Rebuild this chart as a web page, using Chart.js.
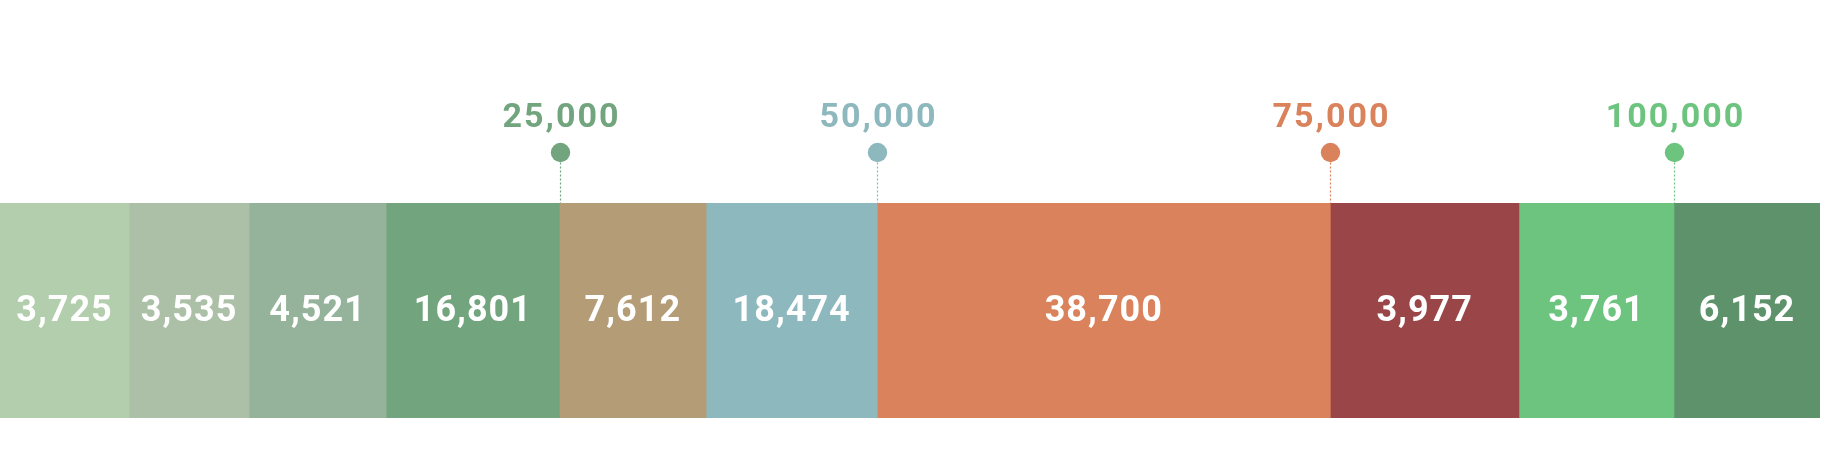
<!DOCTYPE html>
<html>
<head>
<meta charset="utf-8">
<script src="https://cdn.jsdelivr.net/npm/chart.js@4"></script>
<style>
  html, body { margin: 0; padding: 0; background: #ffffff; }
  #wrap { width: 1821px; height: 475px; position: relative; }
</style>
</head>
<body>
<div id="wrap"><canvas id="c"></canvas></div>
<script>
// Segment values (shown as labels)
const values = [3725, 3535, 4521, 16801, 7612, 18474, 38700, 3977, 3761, 6152];
// Relative segment widths (% of bar length)
const shares = [7.09, 6.59, 7.53, 9.53, 8.05, 9.40, 24.89, 10.36, 8.52, 8.02];
// Segment colours
const colors = ['#b2cead', '#abc0a7', '#95b39b', '#72a57e', '#b49c77',
                '#8db8bd', '#d9825b', '#9a4548', '#6cc47f', '#5e926a'];
// Milestones marked above the bar
const milestones = [25000, 50000, 75000, 100000];

const fmt = v => v.toLocaleString('en-US');

const datasets = values.map((v, i) => ({
  label: fmt(v),
  data: [shares[i]],
  backgroundColor: colors[i],
  borderWidth: 0,
  barPercentage: 1,
  categoryPercentage: 1
}));

const labelPlugin = {
  id: 'labels',
  afterDatasetsDraw(chart) {
    const ctx = chart.ctx;
    ctx.save();
    // value labels inside segments
    ctx.fillStyle = '#ffffff';
    ctx.font = 'bold 36px Roboto';
    ctx.textAlign = 'center';
    ctx.textBaseline = 'alphabetic';
    if ('letterSpacing' in ctx) ctx.letterSpacing = '1px';
    values.forEach((v, i) => {
      const el = chart.getDatasetMeta(i).data[0];
      const cx = (el.base + el.x) / 2;
      ctx.fillText(fmt(v), cx, el.y + 10);
    });
    // milestone markers at the end of the segment crossing each milestone
    const cum = [];
    values.reduce((a, v, i) => (cum[i] = a + v), 0);
    milestones.forEach(m => {
      const idx = cum.findIndex(c => c >= m);
      if (idx < 0) return;
      const el = chart.getDatasetMeta(idx).data[0];
      const x = Math.round(el.x) + 0.5;
      const top = el.y - el.height / 2;
      const col = colors[idx];
      const dotY = top - 50.5;
      ctx.strokeStyle = col;
      ctx.lineWidth = 1.2;
      ctx.setLineDash([2, 2]);
      ctx.beginPath();
      ctx.moveTo(x, dotY + 10);
      ctx.lineTo(x, top);
      ctx.stroke();
      ctx.setLineDash([]);
      ctx.fillStyle = col;
      ctx.beginPath();
      ctx.arc(x, dotY, 9.7, 0, Math.PI * 2);
      ctx.fill();
      ctx.font = 'bold 34px Roboto';
      if ('letterSpacing' in ctx) ctx.letterSpacing = '2px';
      ctx.fillText(fmt(m), x + 1, top - 76);
    });
    ctx.restore();
  }
};

new Chart(document.getElementById('c'), {
  type: 'bar',
  data: { labels: [''], datasets },
  options: {
    indexAxis: 'y',
    responsive: true,
    maintainAspectRatio: false,
    animation: false,
    layout: { padding: { top: 203, bottom: 57, left: 0, right: 1 } },
    scales: {
      x: { stacked: true, display: false, min: 0, max: shares.reduce((a, b) => a + b, 0) },
      y: { stacked: true, display: false }
    },
    plugins: { legend: { display: false }, tooltip: { enabled: false } }
  },
  plugins: [labelPlugin]
});
</script>
</body>
</html>
